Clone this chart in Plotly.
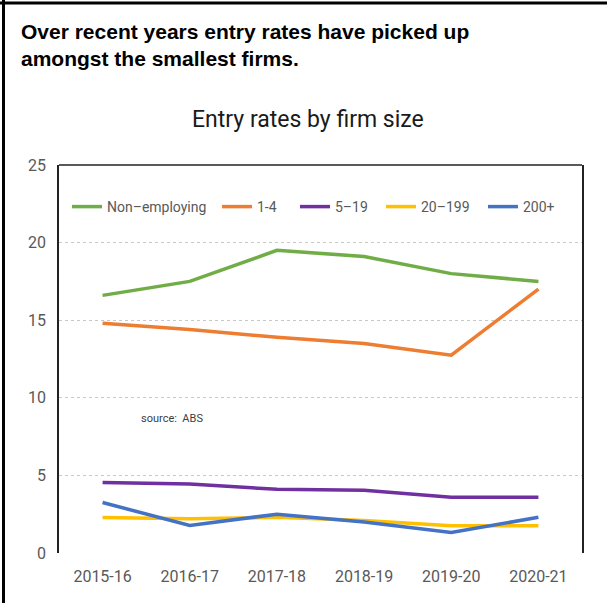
import plotly.graph_objects as go

W, H = 607, 603

years = ["2015-16", "2016-17", "2017-18", "2018-19", "2019-20", "2020-21"]
non_employing = [16.6, 17.5, 19.5, 19.1, 18.0, 17.5]
size_1_4 = [14.8, 14.4, 13.9, 13.5, 12.75, 17.0]
size_5_19 = [4.55, 4.45, 4.1, 4.05, 3.6, 3.6]
size_20_199 = [2.28, 2.2, 2.3, 2.1, 1.75, 1.75]
size_200_plus = [3.25, 1.78, 2.5, 2.0, 1.32, 2.3]

series = [
    ("Non\u2013employing", non_employing, "#70AD47"),
    ("1-4", size_1_4, "#ED7D31"),
    ("5\u201319", size_5_19, "#7030A0"),
    ("20\u2013199", size_20_199, "#FFC000"),
    ("200+", size_200_plus, "#4472C4"),
]

# left edge (px) of each legend entry along the legend row
legend_x = [67, 217, 295, 381, 483]

FONT = "Roboto, Liberation Sans, sans-serif"
GREY = "#595959"

fig = go.Figure()
legends = {}
for i, ((name, vals, col), lx) in enumerate(zip(series, legend_x)):
    key = "legend" if i == 0 else f"legend{i + 1}"
    fig.add_trace(go.Scatter(
        x=years, y=vals, name=name, mode="lines",
        line=dict(color=col, width=3.5),
        legend=key,
    ))
    legends[key] = dict(
        orientation="h", x=lx / W, y=1 - 207 / H,
        xanchor="left", yanchor="middle",
        font=dict(family=FONT, size=14, color=GREY),
        itemwidth=30, bgcolor="rgba(0,0,0,0)", borderwidth=0,
    )

# plot area in pixel terms
x0, x1 = 59, 582
y0, y1 = 165, 553

fig.update_layout(
    width=W, height=H,
    autosize=False,
    margin=dict(l=0, r=0, t=0, b=0, pad=0, autoexpand=False),
    paper_bgcolor="white", plot_bgcolor="white",
    showlegend=True,
    xaxis=dict(
        domain=[x0 / W, x1 / W], type="category", range=[-0.5, 5.5],
        showgrid=False, showline=False, ticks="", zeroline=False,
        automargin=False, ticklabelstandoff=12,
        tickfont=dict(family=FONT, size=16, color=GREY),
    ),
    yaxis=dict(
        domain=[1 - y1 / H, 1 - y0 / H], range=[0, 25], dtick=5,
        showgrid=True, gridcolor="#c8c8c8", griddash="dot", gridwidth=1,
        showline=True, linecolor="#222222", linewidth=1.5, mirror=True,
        ticks="", zeroline=False, automargin=False, ticklabelstandoff=8,
        tickfont=dict(family=FONT, size=16, color=GREY),
    ),
    **legends,
)

# top edge of the plot frame
fig.add_shape(type="line", xref="x domain", yref="y domain",
              x0=0, x1=1, y0=1, y1=1, line=dict(color="#222222", width=1.5))

# outer panel border (top and left)
fig.add_shape(type="line", xref="paper", yref="paper",
              x0=0, x1=1, y0=1 - 3 / H, y1=1 - 3 / H,
              line=dict(color="black", width=3))
fig.add_shape(type="line", xref="paper", yref="paper",
              x0=3.5 / W, x1=3.5 / W, y0=0, y1=1,
              line=dict(color="black", width=3))

fig.add_annotation(
    xref="paper", yref="paper", x=19 / W, y=1 - 18 / H,
    xanchor="left", yanchor="top", align="left", showarrow=False,
    text="<b>Over recent years entry rates have picked up<br>amongst the smallest firms.</b>",
    font=dict(family="Liberation Sans, Arial, sans-serif", size=21, color="black"),
)
fig.add_annotation(
    xref="paper", yref="paper", x=308 / W, y=1 - 120 / H,
    xanchor="center", yanchor="middle", showarrow=False,
    text="Entry rates by firm size",
    font=dict(family=FONT, size=23, color="#1a1a1a"),
)
fig.add_annotation(
    xref="paper", yref="paper", x=172 / W, y=1 - 418 / H,
    xanchor="center", yanchor="middle", showarrow=False,
    text="source:  ABS",
    font=dict(family=FONT, size=11, color="#404040"),
)

fig.write_html("out.html")
